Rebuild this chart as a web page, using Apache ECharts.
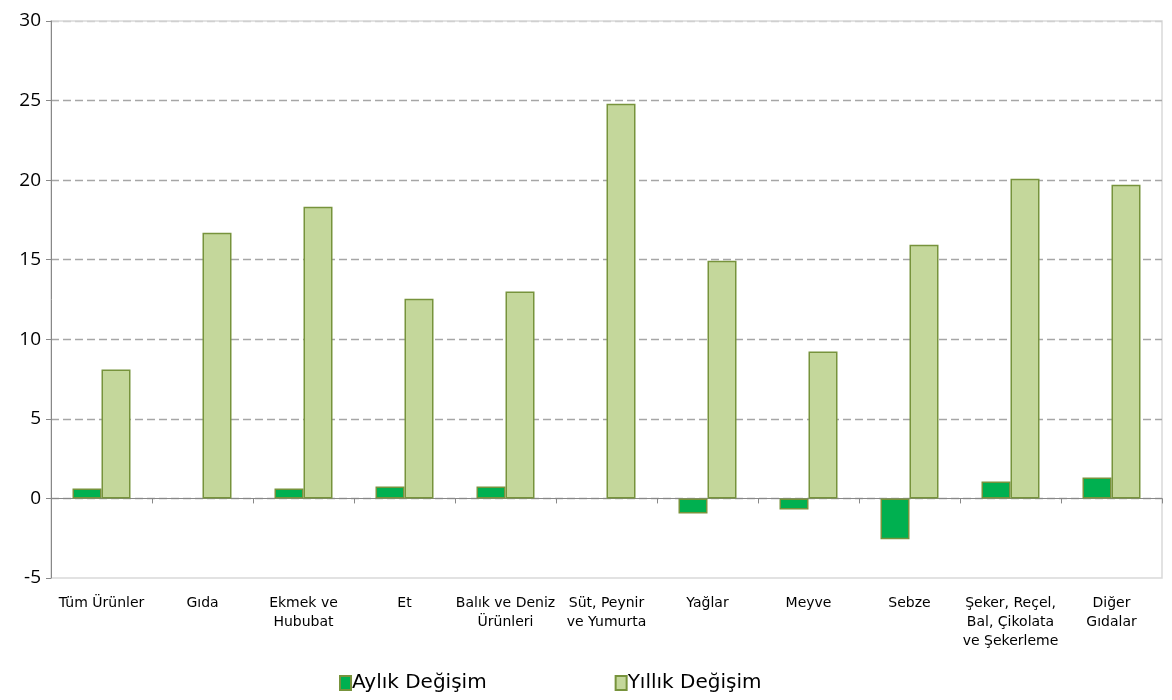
<!DOCTYPE html>
<html><head><meta charset="utf-8">
<script src="https://cdn.jsdelivr.net/npm/echarts@6/dist/echarts.min.js"></script>
<style>html,body{margin:0;padding:0;background:#fff}#c{width:1172px;height:700px}</style>
</head><body><div id="c"></div>
<script>
const categories = ["Tüm Ürünler","Gıda","Ekmek ve\nHububat","Et","Balık ve Deniz\nÜrünleri","Süt, Peynir\nve Yumurta","Yağlar","Meyve","Sebze","Şeker, Reçel,\nBal, Çikolata\nve Şekerleme","Diğer\nGıdalar"];
const monthly = [0.63, null, 0.63, 0.75, 0.75, null, -0.94, -0.69, -2.57, 1.07, 1.32];
const yearly = [8.1, 16.7, 18.33, 12.55, 13.0, 24.8, 14.94, 9.23, 15.94, 20.09, 19.71];
const seriesNames = ["Aylık Değişim","Yıllık Değişim"];

const chart = echarts.init(document.getElementById('c'));
const font = 'Verdana, "DejaVu Sans", sans-serif';
const g = '#a6a6a6';
chart.setOption({
  animation:false,
  textStyle:{fontFamily:font},
  grid:{left:51,right:10,top:21,bottom:122,show:true,borderColor:'#d9d9d9',borderWidth:1.5},
  legend:{bottom:2,left:334,itemGap:128,itemWidth:11,itemHeight:14,icon:'rect',
    textStyle:{fontSize:20,color:'#000',fontFamily:font,padding:[0,0,0,-4]},
    data:seriesNames},
  xAxis:{type:'category',data:categories,
    axisLine:{onZero:true,lineStyle:{color:'#888'}},
    axisTick:{show:true,length:5,lineStyle:{color:'#888'}},
    axisLabel:{interval:0,color:'#000',fontSize:14,lineHeight:19,margin:16},
    position:'bottom'},
  yAxis:{type:'value',min:-5,max:30,interval:5,
    axisLine:{show:true,lineStyle:{color:'#888'}},
    axisTick:{show:true,length:5,lineStyle:{color:'#888'}},
    axisLabel:{color:'#000',fontSize:19,margin:10,fontFamily:'"Open Sans", "DejaVu Sans", sans-serif'},
    splitLine:{show:true,lineStyle:{color:['rgba(0,0,0,0)',g,g,g,g,g,g,'#d0d0d0'],type:[8,4],width:1.3}}},
  series:[
    {name:seriesNames[0],type:'bar',data:monthly,barWidth:29,barGap:'0%',
      itemStyle:{color:'#00B050',borderColor:'#77933C',borderWidth:1.5}},
    {name:seriesNames[1],type:'bar',data:yearly,barWidth:29,barGap:'0%',
      itemStyle:{color:'#C4D79B',borderColor:'#77933C',borderWidth:1.5}}
  ]
});
</script></body></html>
